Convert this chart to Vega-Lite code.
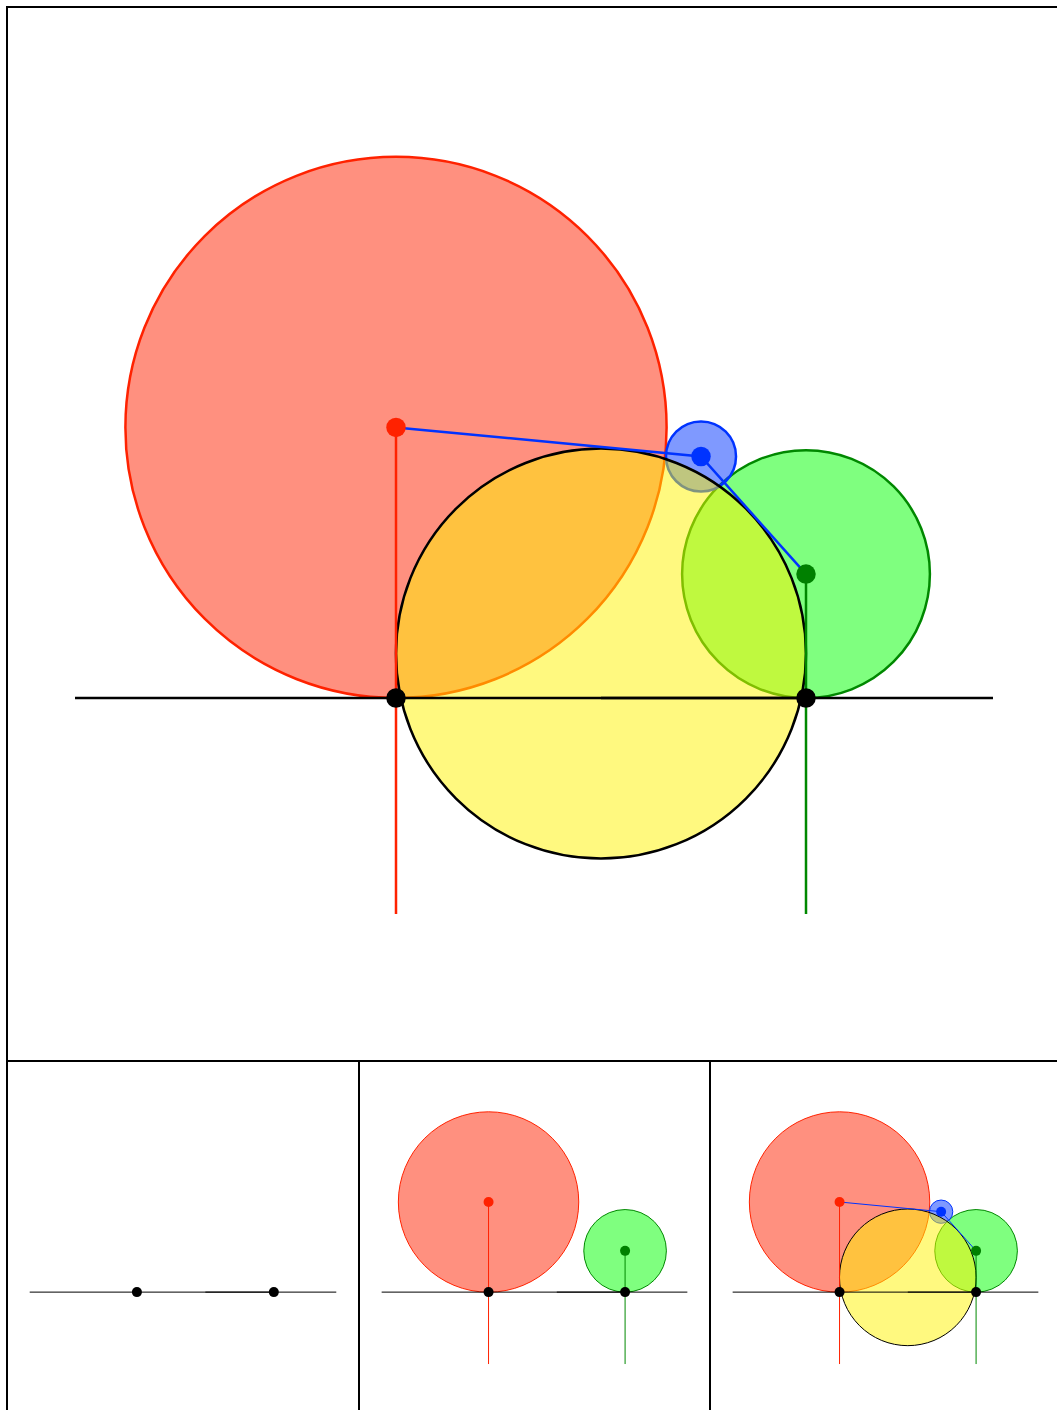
{
  "$schema": "https://vega.github.io/schema/vega-lite/v6.json",
  "padding": {"left": 6, "top": 6, "right": 0, "bottom": 0},
  "background": "white",
  "config": {"view": {"stroke": "black", "strokeWidth": 2}},
  "spacing": 0,
  "bounds": "flush",
  "datasets": {
    "circles": [
      {"name": "red", "x": 0, "y": 90.2, "r": 90.2, "step": 2},
      {"name": "green", "x": 136.67, "y": 41.3, "r": 41.3, "step": 2},
      {"name": "blue", "x": 101.67, "y": 80.5, "r": 11.67, "step": 3}
    ],
    "yellow": [
      {"name": "yellow", "x": 68.33, "y": 14.8, "r": 68.33, "step": 3}
    ],
    "lines": [
      {"seg": "base", "x": -107, "y": 0, "o": 1, "step": 1},
      {"seg": "base", "x": 199, "y": 0, "o": 2, "step": 1},
      {"seg": "half", "x": 68.33, "y": 0, "o": 1, "step": 1},
      {"seg": "half", "x": 136.67, "y": 0, "o": 2, "step": 1},
      {"seg": "redv", "x": 0, "y": 90.2, "o": 1, "step": 2},
      {"seg": "redv", "x": 0, "y": -72, "o": 2, "step": 2},
      {"seg": "greenv", "x": 136.67, "y": 41.3, "o": 1, "step": 2},
      {"seg": "greenv", "x": 136.67, "y": -72, "o": 2, "step": 2},
      {"seg": "bluepath", "x": 0, "y": 90.2, "o": 1, "step": 3},
      {"seg": "bluepath", "x": 101.67, "y": 80.5, "o": 2, "step": 3},
      {"seg": "bluepath", "x": 136.67, "y": 41.3, "o": 3, "step": 3}
    ],
    "dots": [
      {"name": "red", "x": 0, "y": 90.2, "step": 2},
      {"name": "blue", "x": 101.67, "y": 80.5, "step": 3},
      {"name": "green", "x": 136.67, "y": 41.3, "step": 2},
      {"name": "A", "x": 0, "y": 0, "step": 1},
      {"name": "B", "x": 136.67, "y": 0, "step": 1}
    ]
  },
  "vconcat": [
    {
      "width": 1054, "height": 1054,
      "encoding": {
        "x": {"field": "x", "type": "quantitative", "scale": {"domain": [-129.67, 221.67], "nice": false, "zero": false}, "axis": null},
        "y": {"field": "y", "type": "quantitative", "scale": {"domain": [-121, 230.33], "nice": false, "zero": false}, "axis": null}
      },
      "layer": [
        {"data": {"name": "circles"}, "transform": [{"filter": "datum.step <= 3"}],
         "mark": {"type": "point", "shape": "circle", "filled": true, "opacity": 1, "fillOpacity": 0.5, "strokeOpacity": 1, "strokeWidth": 2.5},
         "encoding": {
           "size": {"field": "r", "type": "quantitative", "scale": {"type": "pow", "exponent": 2, "domain": [0, 100], "range": [0, 360000]}, "legend": null},
           "fill": {"field": "name", "type": "nominal", "scale": {"domain": ["red", "green", "blue", "yellow"], "range": ["#FF2200", "#00FF00", "#0033FF", "#FFF400"]}, "legend": null},
           "stroke": {"field": "name", "type": "nominal", "scale": {"domain": ["red", "green", "blue", "yellow"], "range": ["#FF2200", "#008800", "#0033FF", "#000000"]}, "legend": null}
         }},
        {"data": {"name": "yellow"}, "transform": [{"filter": "datum.step <= 3"}],
         "mark": {"type": "point", "shape": "circle", "filled": true, "opacity": 1, "fillOpacity": 0.5, "strokeOpacity": 1, "strokeWidth": 2.5},
         "encoding": {
           "size": {"field": "r", "type": "quantitative", "scale": {"type": "pow", "exponent": 2, "domain": [0, 100], "range": [0, 360000]}, "legend": null},
           "fill": {"field": "name", "type": "nominal", "scale": {"domain": ["red", "green", "blue", "yellow"], "range": ["#FF2200", "#00FF00", "#0033FF", "#FFF400"]}, "legend": null},
           "stroke": {"field": "name", "type": "nominal", "scale": {"domain": ["red", "green", "blue", "yellow"], "range": ["#FF2200", "#008800", "#0033FF", "#000000"]}, "legend": null}
         }},
        {"data": {"name": "lines"}, "transform": [{"filter": "datum.step <= 3"}],
         "mark": {"type": "line", "strokeWidth": 2.5},
         "encoding": {
           "order": {"field": "o", "type": "quantitative"},
           "color": {"field": "seg", "type": "nominal", "scale": {"domain": ["base", "half", "redv", "greenv", "bluepath"], "range": ["#000000", "#000000", "#FF2200", "#008800", "#0033FF"]}, "legend": null}
         }},
        {"data": {"name": "dots"}, "transform": [{"filter": "datum.step <= 3"}],
         "mark": {"type": "point", "shape": "circle", "filled": true, "opacity": 1, "size": 380},
         "encoding": {
           "color": {"field": "name", "type": "nominal", "scale": {"domain": ["red", "blue", "green", "A", "B"], "range": ["#FF2200", "#0033FF", "#008000", "#000000", "#000000"]}, "legend": null}
         }}
      ],
      "resolve": {"scale": {"color": "independent", "fill": "independent", "stroke": "independent", "size": "independent"}}
    },
    {
      "hconcat": [
        {
          "width": 352, "height": 351,
          "encoding": {
            "x": {"field": "x", "type": "quantitative", "scale": {"domain": [-129.67, 221.67], "nice": false, "zero": false}, "axis": null},
            "y": {"field": "y", "type": "quantitative", "scale": {"domain": [-120, 231.33], "nice": false, "zero": false}, "axis": null}
          },
          "layer": [
            {"data": {"name": "lines"}, "transform": [{"filter": "datum.step <= 1"}],
             "mark": {"type": "line", "strokeWidth": 1},
             "encoding": {
               "order": {"field": "o", "type": "quantitative"},
               "color": {"field": "seg", "type": "nominal", "scale": {"domain": ["base", "half", "redv", "greenv", "bluepath"], "range": ["#000000", "#000000", "#FF2200", "#008800", "#0033FF"]}, "legend": null}
             }},
            {"data": {"name": "dots"}, "transform": [{"filter": "datum.step <= 1"}],
             "mark": {"type": "point", "shape": "circle", "filled": true, "opacity": 1, "size": 100},
             "encoding": {
               "color": {"field": "name", "type": "nominal", "scale": {"domain": ["red", "blue", "green", "A", "B"], "range": ["#FF2200", "#0033FF", "#008000", "#000000", "#000000"]}, "legend": null}
             }}
          ],
          "resolve": {"scale": {"color": "independent"}}
        },
        {
          "width": 351, "height": 351,
          "encoding": {
            "x": {"field": "x", "type": "quantitative", "scale": {"domain": [-129.67, 221.67], "nice": false, "zero": false}, "axis": null},
            "y": {"field": "y", "type": "quantitative", "scale": {"domain": [-120, 231.33], "nice": false, "zero": false}, "axis": null}
          },
          "layer": [
            {"data": {"name": "circles"}, "transform": [{"filter": "datum.step <= 2"}],
             "mark": {"type": "point", "shape": "circle", "filled": true, "opacity": 1, "fillOpacity": 0.5, "strokeOpacity": 1, "strokeWidth": 1},
             "encoding": {
               "size": {"field": "r", "type": "quantitative", "scale": {"type": "pow", "exponent": 2, "domain": [0, 100], "range": [0, 40000]}, "legend": null},
               "fill": {"field": "name", "type": "nominal", "scale": {"domain": ["red", "green", "blue", "yellow"], "range": ["#FF2200", "#00FF00", "#0033FF", "#FFF400"]}, "legend": null},
               "stroke": {"field": "name", "type": "nominal", "scale": {"domain": ["red", "green", "blue", "yellow"], "range": ["#FF2200", "#008800", "#0033FF", "#000000"]}, "legend": null}
             }},
            {"data": {"name": "lines"}, "transform": [{"filter": "datum.step <= 2"}],
             "mark": {"type": "line", "strokeWidth": 1},
             "encoding": {
               "order": {"field": "o", "type": "quantitative"},
               "color": {"field": "seg", "type": "nominal", "scale": {"domain": ["base", "half", "redv", "greenv", "bluepath"], "range": ["#000000", "#000000", "#FF2200", "#008800", "#0033FF"]}, "legend": null}
             }},
            {"data": {"name": "dots"}, "transform": [{"filter": "datum.step <= 2"}],
             "mark": {"type": "point", "shape": "circle", "filled": true, "opacity": 1, "size": 100},
             "encoding": {
               "color": {"field": "name", "type": "nominal", "scale": {"domain": ["red", "blue", "green", "A", "B"], "range": ["#FF2200", "#0033FF", "#008000", "#000000", "#000000"]}, "legend": null}
             }}
          ],
          "resolve": {"scale": {"color": "independent", "fill": "independent", "stroke": "independent", "size": "independent"}}
        },
        {
          "width": 351, "height": 351,
          "encoding": {
            "x": {"field": "x", "type": "quantitative", "scale": {"domain": [-129.67, 221.67], "nice": false, "zero": false}, "axis": null},
            "y": {"field": "y", "type": "quantitative", "scale": {"domain": [-120, 231.33], "nice": false, "zero": false}, "axis": null}
          },
          "layer": [
            {"data": {"name": "circles"}, "transform": [{"filter": "datum.step <= 3"}],
             "mark": {"type": "point", "shape": "circle", "filled": true, "opacity": 1, "fillOpacity": 0.5, "strokeOpacity": 1, "strokeWidth": 1},
             "encoding": {
               "size": {"field": "r", "type": "quantitative", "scale": {"type": "pow", "exponent": 2, "domain": [0, 100], "range": [0, 40000]}, "legend": null},
               "fill": {"field": "name", "type": "nominal", "scale": {"domain": ["red", "green", "blue", "yellow"], "range": ["#FF2200", "#00FF00", "#0033FF", "#FFF400"]}, "legend": null},
               "stroke": {"field": "name", "type": "nominal", "scale": {"domain": ["red", "green", "blue", "yellow"], "range": ["#FF2200", "#008800", "#0033FF", "#000000"]}, "legend": null}
             }},
            {"data": {"name": "yellow"}, "transform": [{"filter": "datum.step <= 3"}],
             "mark": {"type": "point", "shape": "circle", "filled": true, "opacity": 1, "fillOpacity": 0.5, "strokeOpacity": 1, "strokeWidth": 1},
             "encoding": {
               "size": {"field": "r", "type": "quantitative", "scale": {"type": "pow", "exponent": 2, "domain": [0, 100], "range": [0, 40000]}, "legend": null},
               "fill": {"field": "name", "type": "nominal", "scale": {"domain": ["red", "green", "blue", "yellow"], "range": ["#FF2200", "#00FF00", "#0033FF", "#FFF400"]}, "legend": null},
               "stroke": {"field": "name", "type": "nominal", "scale": {"domain": ["red", "green", "blue", "yellow"], "range": ["#FF2200", "#008800", "#0033FF", "#000000"]}, "legend": null}
             }},
            {"data": {"name": "lines"}, "transform": [{"filter": "datum.step <= 3"}],
             "mark": {"type": "line", "strokeWidth": 1},
             "encoding": {
               "order": {"field": "o", "type": "quantitative"},
               "color": {"field": "seg", "type": "nominal", "scale": {"domain": ["base", "half", "redv", "greenv", "bluepath"], "range": ["#000000", "#000000", "#FF2200", "#008800", "#0033FF"]}, "legend": null}
             }},
            {"data": {"name": "dots"}, "transform": [{"filter": "datum.step <= 3"}],
             "mark": {"type": "point", "shape": "circle", "filled": true, "opacity": 1, "size": 100},
             "encoding": {
               "color": {"field": "name", "type": "nominal", "scale": {"domain": ["red", "blue", "green", "A", "B"], "range": ["#FF2200", "#0033FF", "#008000", "#000000", "#000000"]}, "legend": null}
             }}
          ],
          "resolve": {"scale": {"color": "independent", "fill": "independent", "stroke": "independent", "size": "independent"}}
        }
      ],
      "spacing": 0,
      "bounds": "flush"
    }
  ]
}
